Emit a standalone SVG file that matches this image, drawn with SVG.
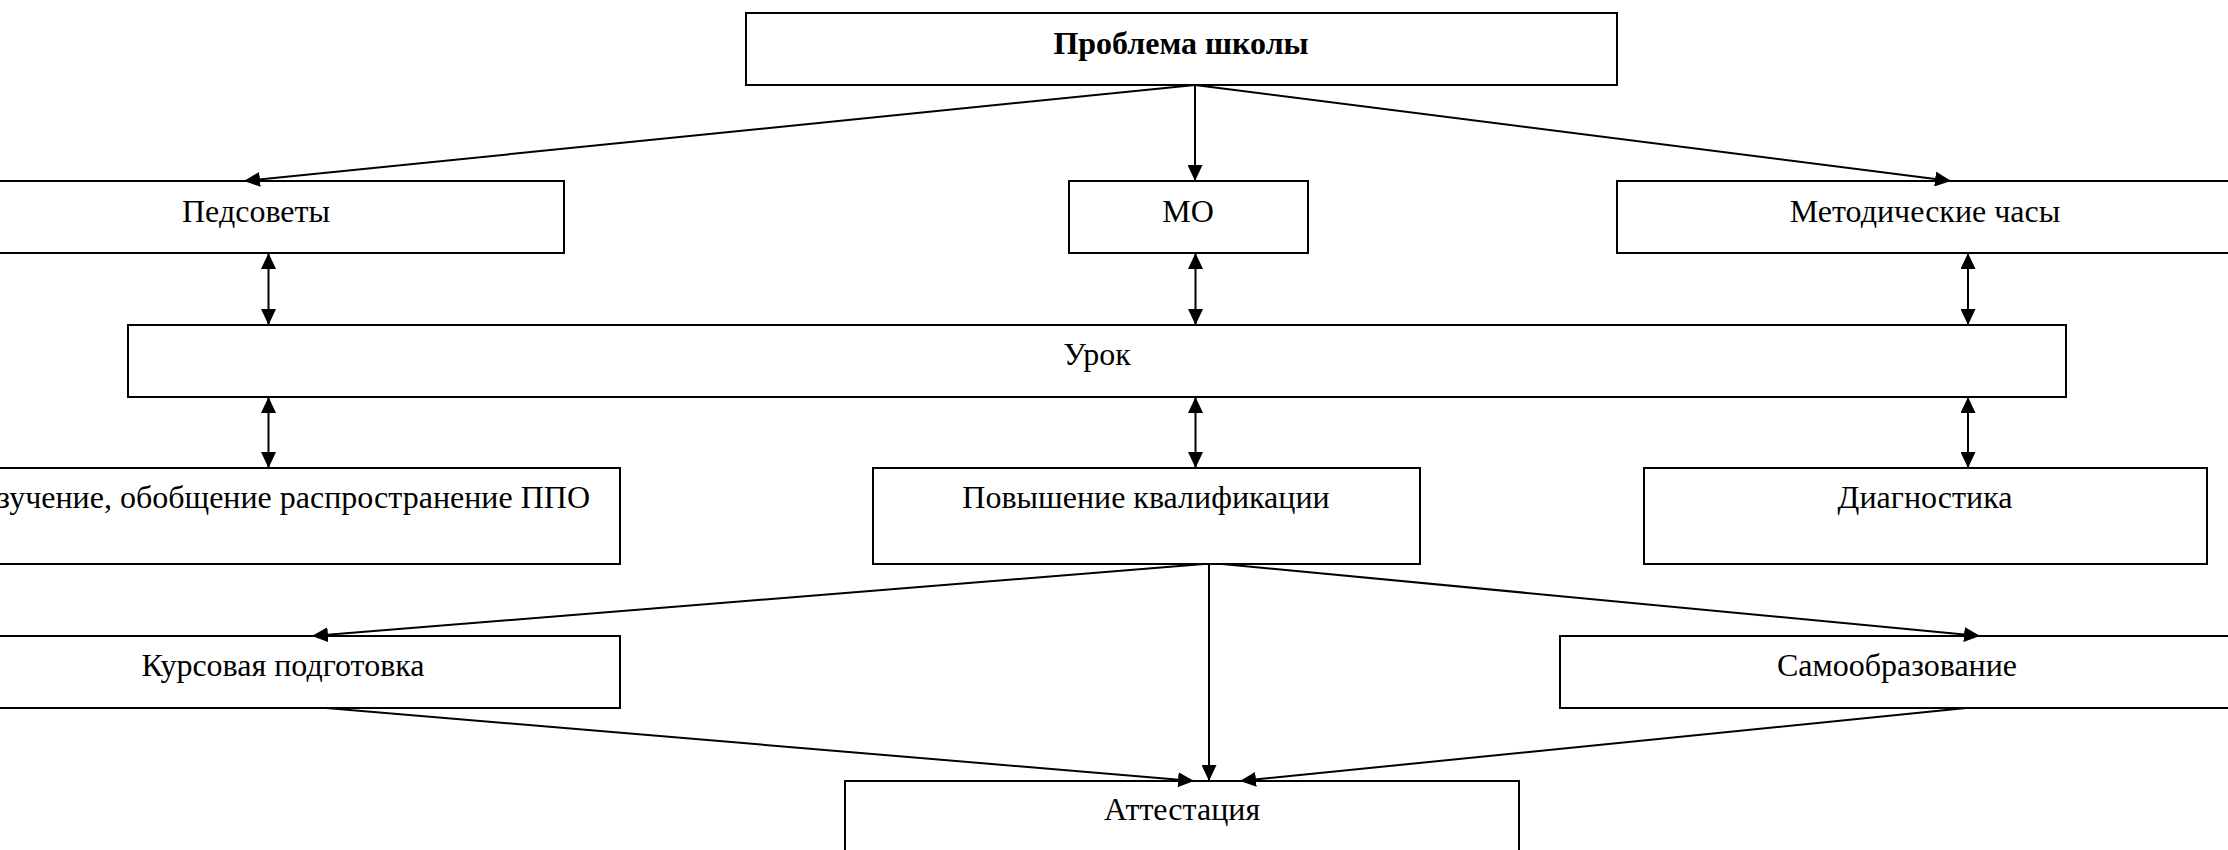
<svg xmlns="http://www.w3.org/2000/svg" width="2228" height="850" viewBox="0 0 2228 850">
<style>
.box{fill:#fff;stroke:#000;stroke-width:2}
.t{font-family:"Liberation Serif","Times New Roman",serif;font-size:32px;fill:#000;text-anchor:middle}
.b{font-weight:bold}
.c{stroke:#000;stroke-width:2;fill:none}
</style>
<defs>
<marker id="ah" markerUnits="userSpaceOnUse" markerWidth="16" markerHeight="15" refX="16" refY="7.5" orient="auto-start-reverse" viewBox="0 0 16 15">
<path d="M0,0 L16,7.5 L0,15 z" fill="#000"/>
</marker>
</defs>
<rect width="2228" height="850" fill="#fff"/>
<g id="n-problem"><rect class="box" x="746" y="13" width="871" height="72"/><text class="t b" x="1181" y="54">Проблема школы</text></g>
<g id="n-pedsovety"><rect class="box" x="-53" y="181" width="617" height="72"/><text class="t" x="256" y="222">Педсоветы</text></g>
<g id="n-mo"><rect class="box" x="1069" y="181" width="239" height="72"/><text class="t" x="1188" y="222">МО</text></g>
<g id="n-metod"><rect class="box" x="1617" y="181" width="617" height="72"/><text class="t" x="1925" y="222">Методические часы</text></g>
<g id="n-urok"><rect class="box" x="128" y="325" width="1938" height="72"/><text class="t" x="1097" y="365">Урок</text></g>
<g id="n-izuch"><rect class="box" x="-53" y="468" width="673" height="96"/><text class="t" x="590" y="508" style="text-anchor:end">Изучение, обобщение распространение ППО</text></g>
<g id="n-povysh"><rect class="box" x="873" y="468" width="547" height="96"/><text class="t" x="1146" y="508">Повышение квалификации</text></g>
<g id="n-diag"><rect class="box" x="1644" y="468" width="563" height="96"/><text class="t" x="1925" y="508">Диагностика</text></g>
<g id="n-kurs"><rect class="box" x="-53" y="636" width="673" height="72"/><text class="t" x="283" y="676">Курсовая подготовка</text></g>
<g id="n-samoobr"><rect class="box" x="1560" y="636" width="674" height="72"/><text class="t" x="1897" y="676">Самообразование</text></g>
<g id="n-attest"><rect class="box" x="845" y="781" width="674" height="90"/><text class="t" x="1182" y="820">Аттестация</text></g>
<g id="connectors">
<line class="c" x1="1195" y1="85" x2="244" y2="181" marker-end="url(#ah)"/>
<line class="c" x1="1195" y1="85" x2="1195" y2="181" marker-end="url(#ah)"/>
<line class="c" x1="1195" y1="85" x2="1951" y2="181" marker-end="url(#ah)"/>
<line class="c" x1="268.5" y1="253" x2="268.5" y2="325" marker-start="url(#ah)" marker-end="url(#ah)"/>
<line class="c" x1="1195.5" y1="253" x2="1195.5" y2="325" marker-start="url(#ah)" marker-end="url(#ah)"/>
<line class="c" x1="1968" y1="253" x2="1968" y2="325" marker-start="url(#ah)" marker-end="url(#ah)"/>
<line class="c" x1="268.5" y1="397" x2="268.5" y2="468" marker-start="url(#ah)" marker-end="url(#ah)"/>
<line class="c" x1="1195.5" y1="397" x2="1195.5" y2="468" marker-start="url(#ah)" marker-end="url(#ah)"/>
<line class="c" x1="1968" y1="397" x2="1968" y2="468" marker-start="url(#ah)" marker-end="url(#ah)"/>
<line class="c" x1="1204" y1="564" x2="312" y2="636" marker-end="url(#ah)"/>
<line class="c" x1="1209" y1="564" x2="1209" y2="781" marker-end="url(#ah)"/>
<line class="c" x1="1222" y1="564" x2="1980" y2="636" marker-end="url(#ah)"/>
<line class="c" x1="326" y1="708" x2="1194" y2="781" marker-end="url(#ah)"/>
<line class="c" x1="1966" y1="708" x2="1240" y2="781" marker-end="url(#ah)"/>
</g>
</svg>
